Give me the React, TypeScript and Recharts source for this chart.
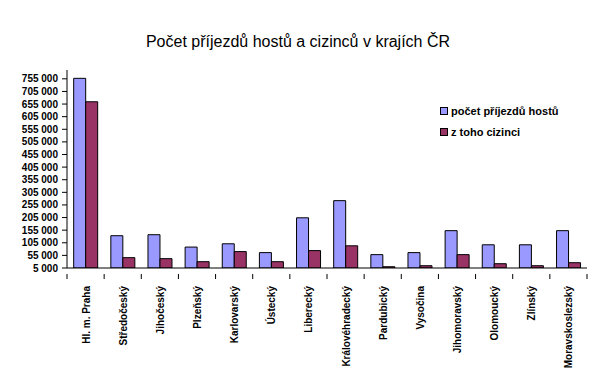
import React from 'react';
import { BarChart, Bar, XAxis, YAxis } from 'recharts';

const regions = [
  'Hl. m. Praha', 'Středočeský', 'Jihočeský', 'Plzeňský', 'Karlovarský', 'Ústecký', 'Liberecký',
  'Královéhradecký', 'Pardubický', 'Vysočina', 'Jihomoravský', 'Olomoucký', 'Zlínský', 'Moravskoslezský',
];
const guests = [757000, 133000, 137000, 88000, 101000, 66000, 204000, 272000, 58000, 66000, 153000, 97000, 97000, 153000];
const foreigners = [664000, 46000, 42000, 30000, 70000, 30000, 74000, 93000, 10000, 14000, 58000, 22000, 14000, 26000];
const yTicks = [5000, 55000, 105000, 155000, 205000, 255000, 305000, 355000, 405000, 455000, 505000, 555000, 605000, 655000, 705000, 755000];
const seriesNames = ['počet příjezdů hostů', 'z toho cizinci'];
const seriesColors = ['#9999FF', '#993366'];

const data = regions.map((name, i) => ({ name, guests: guests[i], foreigners: foreigners[i] }));

const FONT = 'Arial, "Liberation Sans", sans-serif';
const formatTick = (v: number) => v.toLocaleString('en-US').replace(/,/g, ' ');

function RegionTick(props: any) {
  const { x, y, payload, index } = props;
  const off = payload.offset || 0;
  return (
    <g>
      <line x1={x - off} x2={x - off} y1={y - 2} y2={y + 3} stroke="#000" />
      {index === regions.length - 1 && <line x1={x + off} x2={x + off} y1={y - 2} y2={y + 3} stroke="#000" />}
      <text
        x={x + 4}
        y={y + 10}
        transform={`rotate(-90, ${x + 4}, ${y + 10})`}
        textAnchor="end"
        fontSize={10}
        fontWeight="bold"
        fontFamily={FONT}
        fill="#000"
      >
        {payload.value}
      </text>
    </g>
  );
}

function LegendBox() {
  return (
    <div style={{ position: 'absolute', top: 100, left: 440, fontFamily: FONT, fontSize: 11, fontWeight: 'bold' }}>
      {seriesNames.map((label, i) => (
        <div key={label} style={{ display: 'flex', alignItems: 'center', height: 21 }}>
          <span style={{ width: 6, height: 6, background: seriesColors[i], border: '1px solid #000', marginRight: 3 }} />
          {label}
        </div>
      ))}
    </div>
  );
}

export default function App() {
  return (
    <div style={{ position: 'absolute', left: 0, top: 0, width: 594, height: 392, background: '#fff' }}>
      <div
        style={{
          position: 'absolute', top: 33, left: 0, width: 596, textAlign: 'center',
          fontFamily: FONT, fontSize: 16,
        }}
      >
        Počet příjezdů hostů a cizinců v krajích ČR
      </div>
      <BarChart
        width={594}
        height={392}
        data={data}
        margin={{ top: 70, right: 7, bottom: 0, left: 0 }}
        barCategoryGap="18%"
        barGap={0}
      >
        <XAxis
          dataKey="name"
          interval={0}
          tickLine={false}
          stroke="#000"
          tick={<RegionTick />}
          height={124}
        />
        <YAxis
          width={67}
          domain={[5000, 790000]}
          ticks={yTicks}
          interval={0}
          tickFormatter={formatTick}
          allowDataOverflow
          stroke="#000"
          tickSize={5}
          tickMargin={4}
          tick={{ fontSize: 10, fontWeight: 'bold', fontFamily: FONT, fill: '#000' }}
        />
        <Bar dataKey="guests" name={seriesNames[0]} fill={seriesColors[0]} stroke="#000" strokeWidth={1} isAnimationActive={false} />
        <Bar dataKey="foreigners" name={seriesNames[1]} fill={seriesColors[1]} stroke="#000" strokeWidth={1} isAnimationActive={false} />
      </BarChart>
      <LegendBox />
    </div>
  );
}
